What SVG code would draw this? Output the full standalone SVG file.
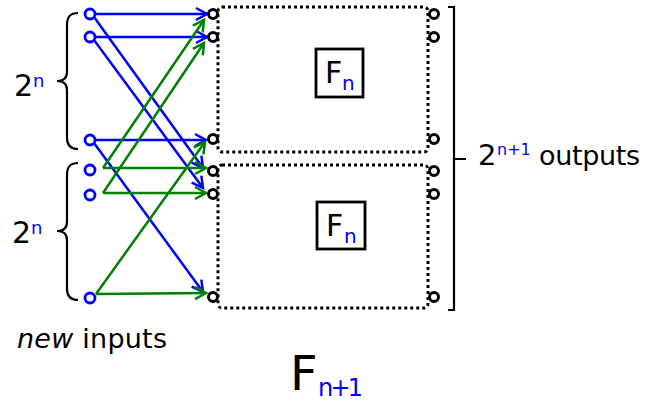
<svg xmlns="http://www.w3.org/2000/svg" width="653" height="404" viewBox="0 0 653 404">
<defs>
<marker id="ab" markerUnits="userSpaceOnUse" markerWidth="16" markerHeight="16" refX="11" refY="6" orient="auto" overflow="visible">
<path d="M0,0 L11,6 L0,12" fill="none" stroke="#0000ff" stroke-width="2.5"/>
</marker>
<marker id="ag" markerUnits="userSpaceOnUse" markerWidth="16" markerHeight="16" refX="11" refY="6" orient="auto" overflow="visible">
<path d="M0,0 L11,6 L0,12" fill="none" stroke="#008000" stroke-width="2.5"/>
</marker>
</defs>
<style>
.t{font-family:"DejaVu Sans",sans-serif;fill:#000}
.b{fill:#0000ff}
.in{fill:#fff;stroke:#0000ff;stroke-width:2.8}
.pt{fill:#fff;stroke:#000;stroke-width:3}
.dot{fill:none;stroke:#000;stroke-width:3;stroke-dasharray:3 3}
.br{fill:none;stroke:#000;stroke-width:2.2}
.bl{stroke:#0000ff;stroke-width:2.5;fill:none;marker-end:url(#ab)}
.gr{stroke:#008000;stroke-width:2.5;fill:none;marker-end:url(#ag)}
</style>
<rect width="653" height="404" fill="#fff"/>
<g id="connectors">
<line class="bl" x1="95" y1="14" x2="207" y2="14"/>
<line class="bl" x1="95" y1="37" x2="207" y2="37"/>
<line class="bl" x1="95" y1="140" x2="206" y2="140"/>
<line class="bl" x1="94" y1="17" x2="203" y2="168"/>
<line class="bl" x1="94" y1="40" x2="203" y2="188"/>
<line class="bl" x1="94" y1="143" x2="203" y2="292"/>
<line class="gr" x1="103" y1="168" x2="206" y2="168"/>
<line class="gr" x1="103" y1="193" x2="206" y2="193"/>
<line class="gr" x1="96" y1="294" x2="206" y2="293"/>
<line class="gr" x1="103" y1="168" x2="204" y2="20"/>
<line class="gr" x1="103" y1="193" x2="204" y2="43"/>
<line class="gr" x1="96" y1="294" x2="205" y2="142"/>
</g>
<g id="box1">
<rect class="dot" x="218" y="7" width="210" height="145" rx="4"/>
<rect x="316" y="49" width="47" height="48" fill="#fff" stroke="#000" stroke-width="2.8"/>
<text class="t" x="325" y="83" font-size="30">F</text>
<text class="t b" x="342" y="90" font-size="20">n</text>
<circle class="pt" cx="213" cy="14" r="4.5"/>
<circle class="pt" cx="213" cy="37" r="4.5"/>
<circle class="pt" cx="213" cy="139" r="4.5"/>
<circle class="pt" cx="434" cy="14" r="4.5"/>
<circle class="pt" cx="434" cy="37" r="4.5"/>
<circle class="pt" cx="434" cy="139" r="4.5"/>
</g>
<g id="box2">
<rect class="dot" x="218" y="165" width="210" height="143" rx="4"/>
<rect x="317" y="202" width="48" height="47" fill="#fff" stroke="#000" stroke-width="2.8"/>
<text class="t" x="326" y="236" font-size="30">F</text>
<text class="t b" x="344" y="243" font-size="20">n</text>
<circle class="pt" cx="213" cy="171" r="4.5"/>
<circle class="pt" cx="213" cy="194" r="4.5"/>
<circle class="pt" cx="213" cy="297" r="4.5"/>
<circle class="pt" cx="434" cy="171" r="4.5"/>
<circle class="pt" cx="434" cy="194" r="4.5"/>
<circle class="pt" cx="434" cy="297" r="4.5"/>
</g>
<g id="inputs">
<circle class="in" cx="90" cy="14" r="5"/>
<circle class="in" cx="90" cy="37" r="5"/>
<circle class="in" cx="90" cy="140" r="5"/>
<circle class="in" cx="90" cy="170" r="5"/>
<circle class="in" cx="90" cy="195" r="5"/>
<circle class="in" cx="90" cy="298" r="5"/>
</g>
<g id="brace-top">
<path class="br" d="M78,13 C70,13 67,17 67,25 L67,72 C67,78 63,81 57,81 C63,81 67,84 67,90 L67,138 C67,145 70,149 78,149"/>
<text class="t" x="14" y="96" font-size="30">2</text>
<text class="t b" x="33" y="87" font-size="18">n</text>
</g>
<g id="brace-bottom">
<path class="br" d="M78,163 C70,163 67,167 67,175 L67,222 C67,228 63,231 57,231 C63,231 67,234 67,240 L67,289 C67,296 70,300 78,300"/>
<text class="t" x="12" y="243" font-size="30">2</text>
<text class="t b" x="31" y="234" font-size="18">n</text>
</g>
<g id="outputs">
<path class="br" d="M448,7 L454,7 L454,310 L448,310 M454,159 L466,159"/>
<text class="t" x="478" y="165" font-size="29">2</text>
<text class="t b" x="497" y="155" font-size="16">n+1</text>
<text class="t" x="539" y="165" font-size="27" textLength="101">outputs</text>
</g>
<g id="new-inputs">
<text class="t" x="17" y="348" font-size="27" textLength="150"><tspan font-style="italic">new</tspan> inputs</text>
</g>
<g id="title">
<text class="t" x="290" y="390" font-size="48">F</text>
<text class="t b" x="318" y="396" font-size="24" textLength="45">n+1</text>
</g>
</svg>
